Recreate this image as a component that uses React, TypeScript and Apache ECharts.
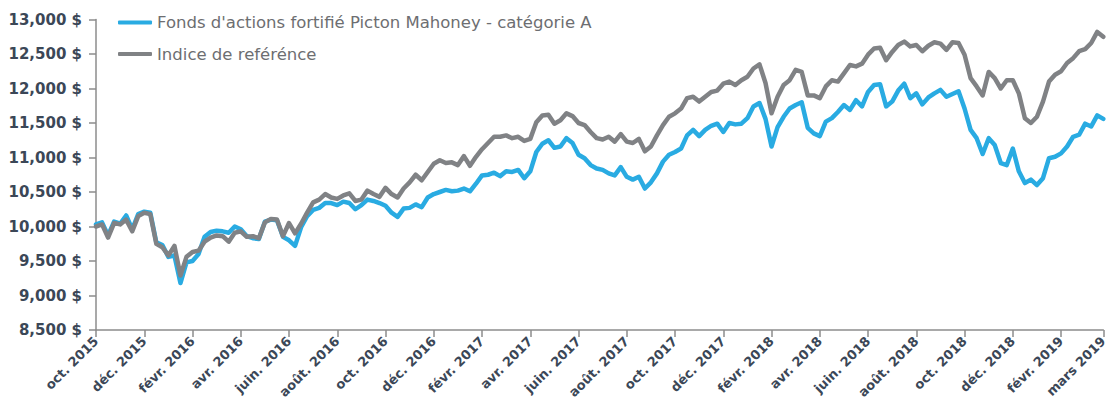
import React, { useEffect, useRef } from "react";
import * as echarts from "echarts";

const tickLabels = [
  "oct. 2015", "déc. 2015", "févr. 2016", "avr. 2016", "juin. 2016", "août. 2016",
  "oct. 2016", "déc. 2016", "févr. 2017", "avr. 2017", "juin. 2017", "août. 2017",
  "oct. 2017", "déc. 2017", "févr. 2018", "avr. 2018", "juin. 2018", "août. 2018",
  "oct. 2018", "déc. 2018", "févr. 2019", "mars 2019",
];

const fundName = "Fonds d'actions fortifié Picton Mahoney - catégorie A";
const refName = "Indice de reférénce";

const fundValues = [
  10030, 10060, 9870, 10070, 10040, 10160, 9960, 10180, 10215, 10200,
  9770, 9730, 9560, 9580, 9180, 9480, 9500, 9600, 9850, 9920,
  9940, 9930, 9910, 10000, 9960, 9860, 9830, 9820, 10070, 10100,
  10090, 9850, 9800, 9720, 9990, 10150, 10240, 10270, 10340, 10340,
  10310, 10360, 10340, 10250, 10310, 10390, 10370, 10340, 10300, 10200,
  10140, 10260, 10270, 10320, 10280, 10420, 10470, 10500, 10530, 10510,
  10520, 10550, 10510, 10620, 10740, 10750, 10780, 10730, 10800, 10790,
  10820, 10700, 10800, 11080, 11200, 11250, 11140, 11160, 11280, 11210,
  11040, 10990, 10890, 10840, 10820, 10770, 10740, 10860, 10720, 10680,
  10720, 10550, 10640, 10770, 10940, 11040, 11080, 11130, 11320, 11400,
  11310, 11400, 11460, 11490, 11370, 11500, 11480, 11490, 11570, 11740,
  11790, 11560, 11160, 11440, 11590, 11710, 11760, 11800, 11430, 11350,
  11310, 11520, 11570, 11660, 11760, 11690, 11830, 11740, 11950, 12050,
  12060, 11740, 11810, 11970, 12070, 11860, 11930, 11770, 11870, 11930,
  11980, 11880, 11920, 11960, 11710, 11400, 11280, 11050, 11280, 11180,
  10920, 10890, 11130, 10800, 10630, 10680, 10600, 10700, 10990, 11010,
  11060, 11160, 11300, 11330, 11490, 11450, 11610, 11560,
];

const refValues = [
  10000, 10030, 9840, 10050, 10030, 10100, 9930, 10150, 10200, 10180,
  9750, 9700, 9580, 9720, 9290, 9560, 9630, 9650, 9780, 9840,
  9870, 9860, 9780, 9910, 9930, 9850, 9860, 9830, 10060, 10110,
  10100, 9860, 10050, 9900, 10040, 10200, 10350, 10390, 10470, 10420,
  10400, 10450, 10480, 10370, 10390, 10520, 10470, 10430, 10560, 10470,
  10420, 10550, 10640, 10750, 10670, 10790, 10910, 10960, 10920, 10930,
  10890, 11020, 10880, 11010, 11120, 11210, 11300, 11300, 11320, 11280,
  11300, 11240, 11270, 11510, 11610, 11620, 11490, 11540, 11640, 11600,
  11500, 11470, 11370, 11280, 11260, 11300, 11230, 11340, 11230, 11210,
  11270, 11090, 11160, 11320, 11470, 11590, 11640, 11710, 11860, 11880,
  11810, 11880, 11950, 11970, 12070, 12100, 12050, 12120, 12170, 12290,
  12350, 12080, 11640, 11880, 12050, 12120, 12270, 12240, 11900, 11900,
  11860, 12030, 12120, 12100, 12220, 12340, 12320, 12360, 12490, 12580,
  12590, 12410, 12530, 12630, 12680, 12610, 12630, 12540, 12620, 12670,
  12650, 12560, 12670, 12660, 12490, 12150, 12030, 11900, 12240, 12150,
  12000, 12120, 12120, 11930, 11570, 11500, 11590, 11810, 12100, 12200,
  12250, 12370, 12440, 12540, 12570, 12660, 12820, 12750,
];

const STEP = 8;
const N = fundValues.length;
const isTick = (i: number) => i % STEP === 0 || i === N - 1;
const categories = fundValues.map((_, i) =>
  i === N - 1 ? tickLabels[tickLabels.length - 1] : i % STEP === 0 ? tickLabels[i / STEP] : ""
);

const AXIS = "#8c8c8c";
const LABEL = "#3b4757";

export default function App() {
  const ref = useRef<HTMLDivElement>(null);
  useEffect(() => {
    document.body.style.margin = "0";
    const chart = echarts.init(ref.current!, undefined, { renderer: "svg" });
    chart.setOption({
      animation: false,
      grid: { left: 96, right: 2, top: 19.5, bottom: 81 },
      legend: {
        orient: "vertical",
        left: 113,
        top: 9,
        itemWidth: 34,
        itemHeight: 4,
        itemGap: 14.5,
        icon: "roundRect",
        textStyle: { fontFamily: "DejaVu Sans", fontSize: 16.5, color: "#6d6e71" },
        data: [fundName, refName],
      },
      xAxis: {
        type: "category",
        data: categories,
        boundaryGap: false,
        axisLine: { lineStyle: { color: AXIS, width: 1.5 } },
        axisTick: { show: true, interval: (i: number) => isTick(i), length: 7, lineStyle: { color: AXIS, width: 1.5 } },
        axisLabel: {
          interval: (i: number) => isTick(i),
          rotate: 45,
          margin: 9,
          fontFamily: "DejaVu Sans",
          fontWeight: "bold",
          fontSize: 13,
          color: LABEL,
        },
        splitLine: { show: false },
      },
      yAxis: {
        type: "value",
        min: 8500,
        max: 13000,
        interval: 500,
        axisLine: { show: true, lineStyle: { color: AXIS, width: 1.5 } },
        axisTick: { show: true, length: 7, lineStyle: { color: AXIS, width: 1.5 } },
        splitLine: { show: false },
        axisLabel: {
          margin: 14,
          fontFamily: "DejaVu Sans",
          fontWeight: "bold",
          fontSize: 15,
          color: LABEL,
          formatter: (v: number) => v.toLocaleString("en-US") + " $",
        },
      },
      series: [
        {
          name: fundName,
          type: "line",
          data: fundValues,
          showSymbol: false,
          color: "#29abe2",
          lineStyle: { width: 4.5, color: "#29abe2", cap: "round", join: "round" },
        },
        {
          name: refName,
          type: "line",
          data: refValues,
          showSymbol: false,
          color: "#808285",
          lineStyle: { width: 4.5, color: "#808285", cap: "round", join: "round" },
        },
      ],
    });
    return () => chart.dispose();
  }, []);
  return <div ref={ref} style={{ width: 1110, height: 411 }} />;
}
